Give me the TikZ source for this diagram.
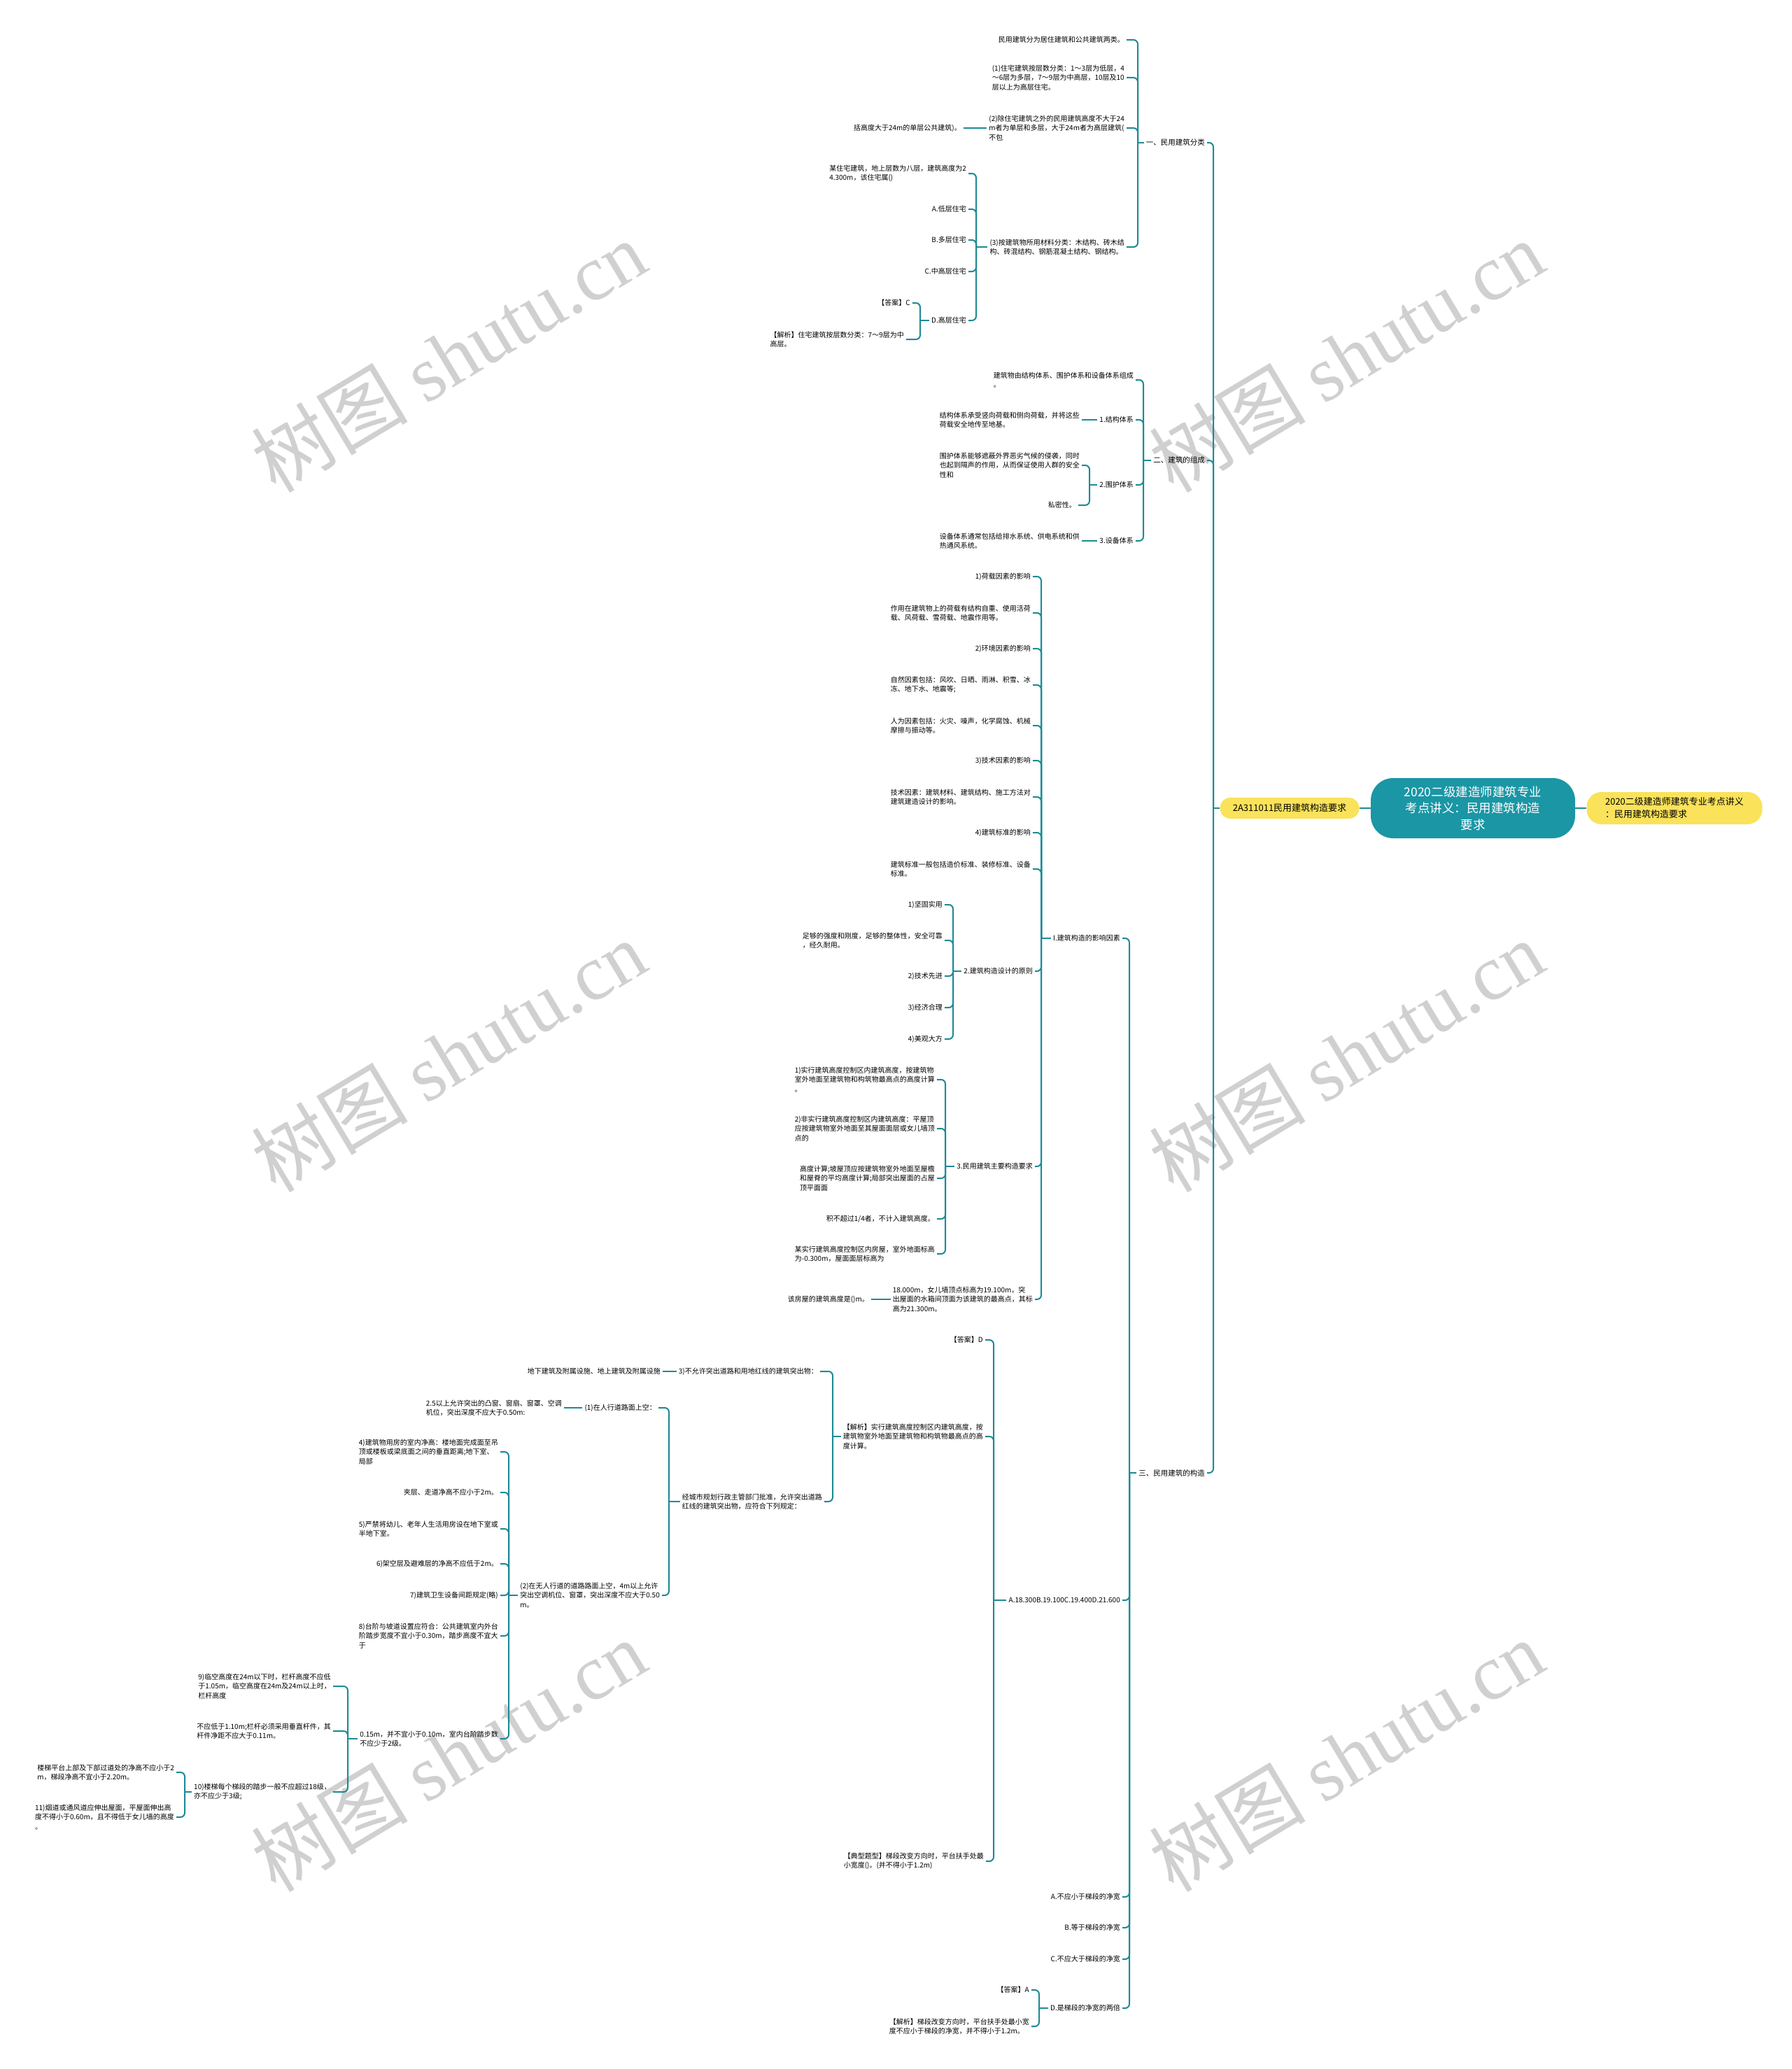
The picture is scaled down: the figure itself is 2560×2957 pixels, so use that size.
\documentclass[tikz,border=0pt]{standalone}
\usepackage{fontspec}
\setmainfont{Noto Sans CJK SC}
\newfontfamily\wmfont{Liberation Serif}
\usetikzlibrary{positioning}
\definecolor{linkteal}{RGB}{30,138,150}
\definecolor{rootteal}{RGB}{26,150,165}
\definecolor{hubyellow}{RGB}{250,226,90}
\definecolor{wmgray}{RGB}{208,208,208}

\begin{document}
\begin{tikzpicture}[
  x=1pt, y=-1pt,
  leaf/.style={anchor=east, inner xsep=3pt, inner ysep=1pt, align=left,
               font=\fontsize{10}{13.3}\selectfont},
  sect/.style={leaf, font=\fontsize{10.5}{14}\selectfont},
  hub/.style={rectangle, rounded corners=15pt, fill=hubyellow, align=left,
              inner sep=0pt, font=\fontsize{13}{18}\selectfont},
  rootbox/.style={rectangle, rounded corners=32pt, fill=rootteal, text=white,
                  align=center, inner sep=0pt, minimum width=292pt, minimum height=86pt,
                  font=\fontsize{17.5}{23.6}\selectfont},
  link/.style={draw=linkteal, line width=2pt, rounded corners=6pt},
  wm/.style={rotate=31, text=wmgray, font=\fontsize{112}{112}\selectfont}
]
\useasboundingbox (0,0) rectangle (2560,2957);

% watermark
\node[wm] (wm1) at (641,509) {树图 {\wmfont shutu.cn}};
\node[wm] (wm2) at (1924,509) {树图 {\wmfont shutu.cn}};
\node[wm] (wm3) at (641,1509) {树图 {\wmfont shutu.cn}};
\node[wm] (wm4) at (1924,1509) {树图 {\wmfont shutu.cn}};
\node[wm] (wm5) at (641,2509) {树图 {\wmfont shutu.cn}};
\node[wm] (wm6) at (1924,2509) {树图 {\wmfont shutu.cn}};

% centre
\node[rootbox] (root) at (2105,1155) {2020二级建造师建筑专业\\考点讲义：民用建筑构造\\要求};
\node[hub, minimum width=251pt, minimum height=46pt, rounded corners=21pt] (hubR) at (2393,1155)
  {2020二级建造师建筑专业考点讲义\\：民用建筑构造要求};
\node[hub, minimum width=199pt, minimum height=30pt] (hubL) at (1843,1155) {2A311011民用建筑构造要求};
\draw[link] (root.east) -- (hubR.west);
\draw[link] (root.west) -- (hubL.east);

% sections
\node[sect] (s1) at (1725,204) {一、民用建筑分类};
\node[sect] (s2) at (1725,658) {二、建筑的组成};
\node[sect] (s3) at (1725,2105) {三、民用建筑的构造};
\coordinate (jt) at (1734,1155);
\draw[link] (hubL.west) -- (jt);
\foreach \c in {s1,s2,s3} \draw[link] (jt) |- (\c.east);

% 一
\node[leaf] (a1) at (1610,57) {民用建筑分为居住建筑和公共建筑两类。};
\node[leaf] (a2) at (1610,111) {(1)住宅建筑按层数分类：1～3层为低层，4\\～6层为多层，7～9层为中高层，10层及10\\层以上为高层住宅。};
\node[leaf] (a3) at (1610,183) {(2)除住宅建筑之外的民用建筑高度不大于24\\m者为单层和多层，大于24m者为高层建筑(\\不包};
\node[leaf] (a4) at (1610,353) {(3)按建筑物所用材料分类：木结构、砖木结\\构、砖混结构、钢筋混凝土结构、钢结构。};
\node[leaf] (a3x) at (1377,183) {括高度大于24m的单层公共建筑)。};
\node[leaf] (a41) at (1384,248) {某住宅建筑，地上层数为八层，建筑高度为2\\4.300m，该住宅属()};
\node[leaf] (a42) at (1384,299) {A.低层住宅};
\node[leaf] (a43) at (1384,343) {B.多层住宅};
\node[leaf] (a44) at (1384,388) {C.中高层住宅};
\node[leaf] (a45) at (1384,458) {D.高层住宅};
\node[leaf] (a451) at (1304,433) {【答案】C};
\node[leaf] (a452) at (1295,485) {【解析】住宅建筑按层数分类：7～9层为中\\高层。};
\coordinate (js1) at (1626,204);
\draw[link] (s1.west) -- (js1);
\foreach \c in {a1,a2,a3,a4} \draw[link] (js1) |- (\c.east);
\draw[link] (a3.west) -- (a3x.east);
\coordinate (ja4) at (1395,353);
\draw[link] (a4.west) -- (ja4);
\foreach \c in {a41,a42,a43,a44,a45} \draw[link] (ja4) |- (\c.east);
\coordinate (ja45) at (1315,458);
\draw[link] (a45.west) -- (ja45);
\foreach \c in {a451,a452} \draw[link] (ja45) |- (\c.east);

% 二
\node[leaf] (b1) at (1623,543) {建筑物由结构体系、围护体系和设备体系组成\\。};
\node[leaf] (b2) at (1623,600) {1.结构体系};
\node[leaf] (b3) at (1623,693) {2.围护体系};
\node[leaf] (b4) at (1623,773) {3.设备体系};
\node[leaf] (b21) at (1546,600) {结构体系承受竖向荷载和侧向荷载，并将这些\\荷载安全地传至地基。};
\node[leaf] (b31) at (1546,665) {围护体系能够遮蔽外界恶劣气候的侵袭，同时\\也起到隔声的作用，从而保证使用人群的安全\\性和};
\node[leaf] (b32) at (1541,722) {私密性。};
\node[leaf] (b41) at (1546,773) {设备体系通常包括给排水系统、供电系统和供\\热通风系统。};
\coordinate (js2) at (1634,658);
\draw[link] (s2.west) -- (js2);
\foreach \c in {b1,b2,b3,b4} \draw[link] (js2) |- (\c.east);
\draw[link] (b2.west) -- (b21.east);
\draw[link] (b4.west) -- (b41.east);
\coordinate (jb3) at (1557,693);
\draw[link] (b3.west) -- (jb3);
\foreach \c in {b31,b32} \draw[link] (jb3) |- (\c.east);

% 三
\node[leaf] (c1) at (1604,1341) {I.建筑构造的影响因素};
\node[leaf] (c2) at (1604,2287) {A.18.300B.19.100C.19.400D.21.600};
\node[leaf] (c3) at (1604,2711) {A.不应小于梯段的净宽};
\node[leaf] (c4) at (1604,2755) {B.等于梯段的净宽};
\node[leaf] (c5) at (1604,2800) {C.不应大于梯段的净宽};
\node[leaf] (c6) at (1604,2870) {D.是梯段的净宽的两倍};
\coordinate (js3) at (1614,2105);
\draw[link] (s3.west) -- (js3);
\foreach \c in {c1,c2,c3,c4,c5,c6} \draw[link] (js3) |- (\c.east);

% I. 影响因素
\node[leaf] (d1) at (1476,824) {1)荷载因素的影响};
\node[leaf] (d2) at (1476,876) {作用在建筑物上的荷载有结构自重、使用活荷\\载、风荷载、雪荷载、地震作用等。};
\node[leaf] (d3) at (1476,927) {2)环境因素的影响};
\node[leaf] (d4) at (1476,979) {自然因素包括：风吹、日晒、雨淋、积雪、冰\\冻、地下水、地震等;};
\node[leaf] (d5) at (1476,1037) {人为因素包括：火灾、噪声，化学腐蚀、机械\\摩擦与振动等。};
\node[leaf] (d6) at (1476,1087) {3)技术因素的影响};
\node[leaf] (d7) at (1476,1139) {技术因素：建筑材料、建筑结构、施工方法对\\建筑建造设计的影响。};
\node[leaf] (d8) at (1476,1190) {4)建筑标准的影响};
\node[leaf] (d9) at (1476,1242) {建筑标准一般包括造价标准、装修标准、设备\\标准。};
\node[leaf] (d10) at (1479,1388) {2.建筑构造设计的原则};
\node[leaf] (d11) at (1479,1667) {3.民用建筑主要构造要求};
\node[leaf] (d12) at (1479,1857) {18.000m，女儿墙顶点标高为19.100m，突\\出屋面的水箱间顶面为该建筑的最高点，其标\\高为21.300m。};
\coordinate (jc1) at (1488,1341);
\draw[link] (c1.west) -- (jc1);
\foreach \c in {d1,d2,d3,d4,d5,d6,d7,d8,d9,d10,d11,d12} \draw[link] (jc1) |- (\c.east);

\node[leaf] (e1) at (1350,1293) {1)坚固实用};
\node[leaf] (e2) at (1350,1344) {足够的强度和刚度，足够的整体性，安全可靠\\，经久耐用。};
\node[leaf] (e3) at (1350,1395) {2)技术先进};
\node[leaf] (e4) at (1350,1440) {3)经济合理};
\node[leaf] (e5) at (1350,1485) {4)美观大方};
\coordinate (jd10) at (1362,1388);
\draw[link] (d10.west) -- (jd10);
\foreach \c in {e1,e2,e3,e4,e5} \draw[link] (jd10) |- (\c.east);

\node[leaf] (f1) at (1339,1543) {1)实行建筑高度控制区内建筑高度，按建筑物\\室外地面至建筑物和构筑物最高点的高度计算\\。};
\node[leaf] (f2) at (1339,1613) {2)非实行建筑高度控制区内建筑高度：平屋顶\\应按建筑物室外地面至其屋面面层或女儿墙顶\\点的};
\node[leaf] (f3) at (1339,1684) {高度计算;坡屋顶应按建筑物室外地面至屋檐\\和屋脊的平均高度计算;局部突出屋面的占屋\\顶平面面};
\node[leaf] (f4) at (1339,1742) {积不超过1/4者，不计入建筑高度。};
\node[leaf] (f5) at (1339,1792) {某实行建筑高度控制区内房屋，室外地面标高\\为-0.300m，屋面面层标高为};
\coordinate (jd11) at (1351,1667);
\draw[link] (d11.west) -- (jd11);
\foreach \c in {f1,f2,f3,f4,f5} \draw[link] (jd11) |- (\c.east);

\node[leaf] (g1) at (1245,1857) {该房屋的建筑高度是()m。};
\draw[link] (d12.west) -- (g1.east);

% A.18.300...
\node[leaf] (h1) at (1408,1915) {【答案】D};
\node[leaf] (h2) at (1408,2053) {【解析】实行建筑高度控制区内建筑高度，按\\建筑物室外地面至建筑物和构筑物最高点的高\\度计算。};
\node[leaf] (h3) at (1409,2660) {【典型题型】梯段改变方向时，平台扶手处最\\小宽度()。(并不得小于1.2m)};
\coordinate (jc2) at (1420,2287);
\draw[link] (c2.west) -- (jc2);
\foreach \c in {h1,h2,h3} \draw[link] (jc2) |- (\c.east);

\node[leaf] (i1) at (1172,1960) {3)不允许突出道路和用地红线的建筑突出物：};
\node[leaf] (i1x) at (947,1960) {地下建筑及附属设施、地上建筑及附属设施};
\node[leaf] (i2) at (1178,2146) {经城市规划行政主管部门批准，允许突出道路\\红线的建筑突出物，应符合下列规定：};
\coordinate (jh2) at (1190,2053);
\draw[link] (h2.west) -- (jh2);
\foreach \c in {i1,i2} \draw[link] (jh2) |- (\c.east);
\draw[link] (i1.west) -- (i1x.east);

\node[leaf] (j1) at (941,2012) {(1)在人行道路面上空：};
\node[leaf] (j1x) at (806,2012) {2.5以上允许突出的凸窗、窗扇、窗罩、空调\\机位，突出深度不应大于0.50m:};
\node[leaf] (j2) at (946,2280) {(2)在无人行道的道路路面上空，4m以上允许\\突出空调机位、窗罩，突出深度不应大于0.50\\m。};
\coordinate (ji2) at (956,2146);
\draw[link] (i2.west) -- (ji2);
\foreach \c in {j1,j2} \draw[link] (ji2) |- (\c.east);
\draw[link] (j1.west) -- (j1x.east);

\node[leaf] (k1) at (715,2075) {4)建筑物用房的室内净高：楼地面完成面至吊\\顶或楼板或梁底面之间的垂直距离;地下室、\\局部};
\node[leaf] (k2) at (715,2133) {夹层、走道净高不应小于2m。};
\node[leaf] (k3) at (715,2185) {5)严禁将幼儿、老年人生活用房设在地下室或\\半地下室。};
\node[leaf] (k4) at (715,2235) {6)架空层及避难层的净高不应低于2m。};
\node[leaf] (k5) at (715,2280) {7)建筑卫生设备间距规定(略)};
\node[leaf] (k6) at (715,2338) {8)台阶与坡道设置应符合：公共建筑室内外台\\阶踏步宽度不宜小于0.30m，踏步高度不宜大\\于};
\node[leaf] (k7) at (715,2485) {0.15m，并不宜小于0.10m，室内台阶踏步数\\不应少于2级。};
\coordinate (jj2) at (727,2280);
\draw[link] (j2.west) -- (jj2);
\foreach \c in {k1,k2,k3,k4,k5,k6,k7} \draw[link] (jj2) |- (\c.east);

\node[leaf] (l1) at (476,2410) {9)临空高度在24m以下时，栏杆高度不应低\\于1.05m，临空高度在24m及24m以上时，\\栏杆高度};
\node[leaf] (l2) at (476,2474) {不应低于1.10m;栏杆必须采用垂直杆件，其\\杆件净距不应大于0.11m。};
\node[leaf] (l3) at (476,2561) {10)楼梯每个梯段的踏步一般不应超过18级，\\亦不应少于3级;};
\coordinate (jk7) at (497,2485);
\draw[link] (k7.west) -- (jk7);
\foreach \c in {l1,l2,l3} \draw[link] (jk7) |- (\c.east);

\node[leaf] (m1) at (252,2533) {楼梯平台上部及下部过道处的净高不应小于2\\m，梯段净高不宜小于2.20m。};
\node[leaf] (m2) at (252,2597) {11)烟道或通风道应伸出屋面，平屋面伸出高\\度不得小于0.60m，且不得低于女儿墙的高度\\。};
\coordinate (jl3) at (264,2561);
\draw[link] (l3.west) -- (jl3);
\foreach \c in {m1,m2} \draw[link] (jl3) |- (\c.east);

% D.是梯段的净宽的两倍
\node[leaf] (n1) at (1474,2844) {【答案】A};
\node[leaf] (n2) at (1474,2896) {【解析】梯段改变方向时，平台扶手处最小宽\\度不应小于梯段的净宽，并不得小于1.2m。};
\coordinate (jc6) at (1485,2870);
\draw[link] (c6.west) -- (jc6);
\foreach \c in {n1,n2} \draw[link] (jc6) |- (\c.east);
\end{tikzpicture}
\end{document}
